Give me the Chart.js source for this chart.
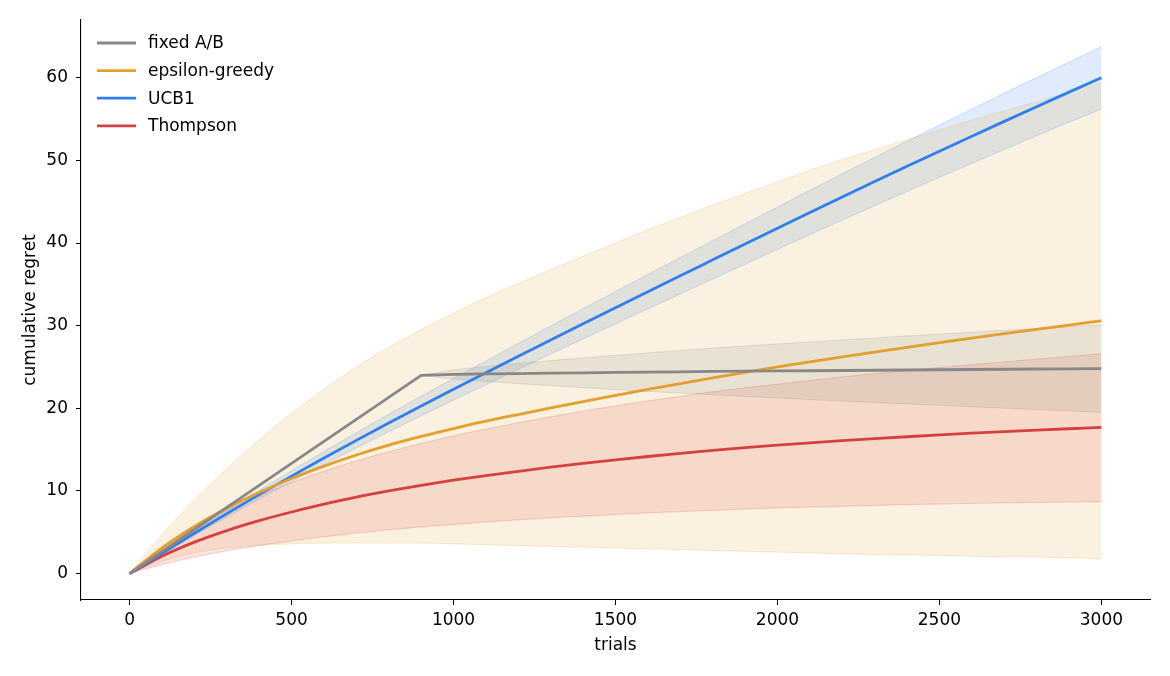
<!DOCTYPE html>
<html>
<head>
<meta charset="utf-8">
<script src="https://cdn.jsdelivr.net/npm/chart.js@4.4.1/dist/chart.umd.min.js"></script>
<style>
  html, body { margin: 0; padding: 0; background: #fff; }
  canvas { display: block; }
</style>
</head>
<body>
<canvas id="regretChart" width="1170" height="676"></canvas>
<script>
// trials (x values)
const trials = [0, 100, 200, 300, 400, 500, 600, 700, 800, 900, 1000, 1100, 1200, 1300, 1400, 1500,
  1600, 1700, 1800, 1900, 2000, 2100, 2200, 2300, 2400, 2500, 2600, 2700, 2800, 2900, 3000];

// fixed A/B
const fixedMean = [0, 2.67, 5.33, 8.0, 10.67, 13.33, 16.0, 18.67, 21.33, 24.0, 24.1, 24.16, 24.21, 24.26, 24.3, 24.34,
  24.38, 24.42, 24.46, 24.49, 24.52, 24.55, 24.58, 24.61, 24.64, 24.67, 24.7, 24.73, 24.76, 24.78, 24.8];
const fixedUpper = [0, 2.67, 5.33, 8.0, 10.67, 13.33, 16.0, 18.67, 21.33, 24.0, 24.65, 25.06, 25.43, 25.78, 26.1, 26.41,
  26.71, 27.0, 27.28, 27.54, 27.79, 28.04, 28.28, 28.52, 28.75, 28.98, 29.21, 29.44, 29.67, 29.88, 30.1];
const fixedLower = [0, 2.67, 5.33, 8.0, 10.67, 13.33, 16.0, 18.67, 21.33, 24.0, 23.55, 23.26, 22.99, 22.74, 22.5, 22.27,
  22.05, 21.84, 21.64, 21.44, 21.25, 21.06, 20.88, 20.7, 20.53, 20.36, 20.19, 20.02, 19.85, 19.68, 19.5];

// epsilon-greedy
const epsMean = [0, 3.1, 5.7, 7.9, 9.8, 11.5, 13.0, 14.35, 15.55, 16.6, 17.55, 18.44, 19.25, 20.04, 20.81, 21.56,
  22.29, 23.0, 23.69, 24.36, 25.01, 25.63, 26.23, 26.81, 27.38, 27.94, 28.49, 29.03, 29.56, 30.08, 30.59];
const epsUpper = [0, 4.7, 8.9, 12.7, 16.2, 19.4, 22.3, 25.0, 27.4, 29.5, 31.5, 33.4, 35.1, 36.8, 38.4, 40.0,
  41.6, 43.1, 44.6, 46.0, 47.4, 48.8, 50.1, 51.3, 52.5, 53.7, 54.9, 56.0, 57.1, 58.3, 59.4];
const epsLower = [0, 1.5, 2.5, 3.1, 3.4, 3.6, 3.7, 3.7, 3.7, 3.7, 3.6, 3.5, 3.4, 3.3, 3.2, 3.1,
  3.0, 2.9, 2.8, 2.7, 2.6, 2.5, 2.4, 2.3, 2.25, 2.2, 2.1, 2.05, 2.0, 1.9, 1.8];

// UCB1
const ucbMean = [0, 2.44, 4.88, 7.25, 9.55, 11.79, 13.98, 16.12, 18.22, 20.28, 22.3, 24.3, 26.29, 28.27, 30.23, 32.18,
  34.12, 36.05, 37.97, 39.89, 41.8, 43.7, 45.58, 47.44, 49.29, 51.12, 52.93, 54.73, 56.51, 58.27, 60.0];
const ucbUpper = [0, 2.58, 5.15, 7.65, 10.08, 12.45, 14.77, 17.04, 19.27, 21.46, 23.61, 25.74, 27.86, 29.97, 32.06, 34.14,
  36.2, 38.25, 40.29, 42.33, 44.36, 46.38, 48.38, 50.36, 52.33, 54.28, 56.21, 58.13, 60.03, 61.91, 63.76];
const ucbLower = [0, 2.3, 4.61, 6.85, 9.02, 11.13, 13.19, 15.2, 17.17, 19.1, 20.99, 22.86, 24.72, 26.57, 28.4, 30.22,
  32.04, 33.85, 35.65, 37.45, 39.24, 41.02, 42.78, 44.52, 46.25, 47.96, 49.65, 51.33, 52.99, 54.63, 56.24];

// Thompson
const tsMean = [0, 2.1, 3.8, 5.2, 6.4, 7.45, 8.4, 9.25, 10.0, 10.68, 11.3, 11.86, 12.38, 12.87, 13.33, 13.76,
  14.17, 14.55, 14.91, 15.24, 15.54, 15.82, 16.08, 16.33, 16.56, 16.78, 16.99, 17.18, 17.36, 17.53, 17.69];
const tsUpper = [0, 3.1, 5.6, 7.67, 9.44, 11.0, 12.4, 13.64, 14.75, 15.75, 16.67, 17.49, 18.26, 18.98, 19.66, 20.3,
  20.9, 21.46, 21.99, 22.48, 22.92, 23.37, 23.8, 24.2, 24.57, 24.93, 25.28, 25.62, 25.95, 26.28, 26.6];
const tsLower = [0, 1.1, 2.0, 2.75, 3.4, 3.95, 4.45, 4.9, 5.3, 5.65, 5.95, 6.25, 6.5, 6.75, 6.95, 7.15,
  7.35, 7.5, 7.65, 7.8, 7.95, 8.05, 8.15, 8.25, 8.35, 8.42, 8.5, 8.55, 8.6, 8.65, 8.7];

const xTicks = [0, 500, 1000, 1500, 2000, 2500, 3000];
const yTicks = [0, 10, 20, 30, 40, 50, 60];

const FONT = "'DejaVu Sans', sans-serif";
const FONT_SIZE = 17;

function pts(arr) {
  return trials.map((t, i) => ({ x: t, y: arr[i] }));
}

function rgba(rgb, a) {
  return `rgba(${rgb[0]}, ${rgb[1]}, ${rgb[2]}, ${a})`;
}

const series = [
  { label: "fixed A/B", rgb: [136, 136, 136], mean: fixedMean, upper: fixedUpper, lower: fixedLower, smooth: false },
  { label: "epsilon-greedy", rgb: [227, 160, 47], mean: epsMean, upper: epsUpper, lower: epsLower, smooth: true },
  { label: "UCB1", rgb: [47, 128, 237], mean: ucbMean, upper: ucbUpper, lower: ucbLower, smooth: true },
  { label: "Thompson", rgb: [214, 64, 69], mean: tsMean, upper: tsUpper, lower: tsLower, smooth: true },
];

function curve(s) {
  return s.smooth ? { cubicInterpolationMode: "monotone" } : { tension: 0 };
}

// main lines first so they are drawn on top
const datasets = [];
series.forEach((s) => {
  datasets.push(Object.assign({
    label: s.label,
    data: pts(s.mean),
    borderColor: rgba(s.rgb, 1),
    borderWidth: 2.8,
    pointRadius: 0,
    fill: false,
    isMain: true,
  }, curve(s)));
});
// bands: upper fills down to the following lower dataset
series.forEach((s) => {
  datasets.push(Object.assign({
    label: s.label + " upper",
    data: pts(s.upper),
    borderColor: rgba(s.rgb, 0.22),
    backgroundColor: rgba(s.rgb, 0.15),
    borderWidth: 1,
    pointRadius: 0,
    fill: "+1",
  }, curve(s)));
  datasets.push(Object.assign({
    label: s.label + " lower",
    data: pts(s.lower),
    borderColor: rgba(s.rgb, 0.22),
    borderWidth: 1,
    pointRadius: 0,
    fill: false,
  }, curve(s)));
});

// legend drawn inside the plot, top-left, no frame
const legendPlugin = {
  id: "insideLegend",
  afterDraw(chart) {
    const ctx = chart.ctx;
    const area = chart.chartArea;
    ctx.save();
    ctx.font = FONT_SIZE + "px " + FONT;
    ctx.textBaseline = "middle";
    ctx.fillStyle = "#000";
    let i = 0;
    chart.data.datasets.forEach((ds) => {
      if (!ds.isMain) return;
      const y = area.top + 23 + i * 27.6;
      ctx.strokeStyle = ds.borderColor;
      ctx.lineWidth = 2.8;
      ctx.beginPath();
      ctx.moveTo(area.left + 16, y);
      ctx.lineTo(area.left + 55, y);
      ctx.stroke();
      ctx.fillText(ds.label, area.left + 67, y + 1);
      i++;
    });
    ctx.restore();
  },
};

new Chart(document.getElementById("regretChart").getContext("2d"), {
  type: "line",
  data: { datasets },
  options: {
    responsive: false,
    animation: false,
    layout: { padding: { top: 20, right: 20, left: 0, bottom: 0 } },
    plugins: {
      legend: { display: false },
      tooltip: { enabled: false },
      filler: { drawTime: "beforeDatasetsDraw" },
    },
    scales: {
      x: {
        type: "linear",
        min: -150,
        max: 3150,
        afterBuildTicks: (scale) => { scale.ticks = xTicks.map((v) => ({ value: v })); },
        afterFit: (scale) => { scale.height = 76; },
        grid: { drawOnChartArea: false, drawTicks: true, tickLength: 5, color: "#000", lineWidth: 1 },
        border: { display: true, color: "#000", width: 1.1 },
        ticks: { color: "#000", font: { family: FONT, size: FONT_SIZE }, padding: 5, maxRotation: 0,
          callback: (v) => String(v) },
        title: { display: true, text: "trials", color: "#000", font: { family: FONT, size: FONT_SIZE }, padding: { top: 0, bottom: 20 } },
      },
      y: {
        type: "linear",
        min: -3.2,
        max: 67,
        afterBuildTicks: (scale) => { scale.ticks = yTicks.map((v) => ({ value: v })); },
        afterFit: (scale) => { scale.width = 81; },
        grid: { drawOnChartArea: false, drawTicks: true, tickLength: 5, color: "#000", lineWidth: 1 },
        border: { display: true, color: "#000", width: 1.1 },
        ticks: { color: "#000", font: { family: FONT, size: FONT_SIZE }, padding: 8,
          callback: (v) => String(v) },
        title: { display: true, text: "cumulative regret", color: "#000", font: { family: FONT, size: FONT_SIZE }, padding: { top: 20, bottom: 0 } },
      },
    },
  },
  plugins: [legendPlugin],
});
</script>
</body>
</html>
